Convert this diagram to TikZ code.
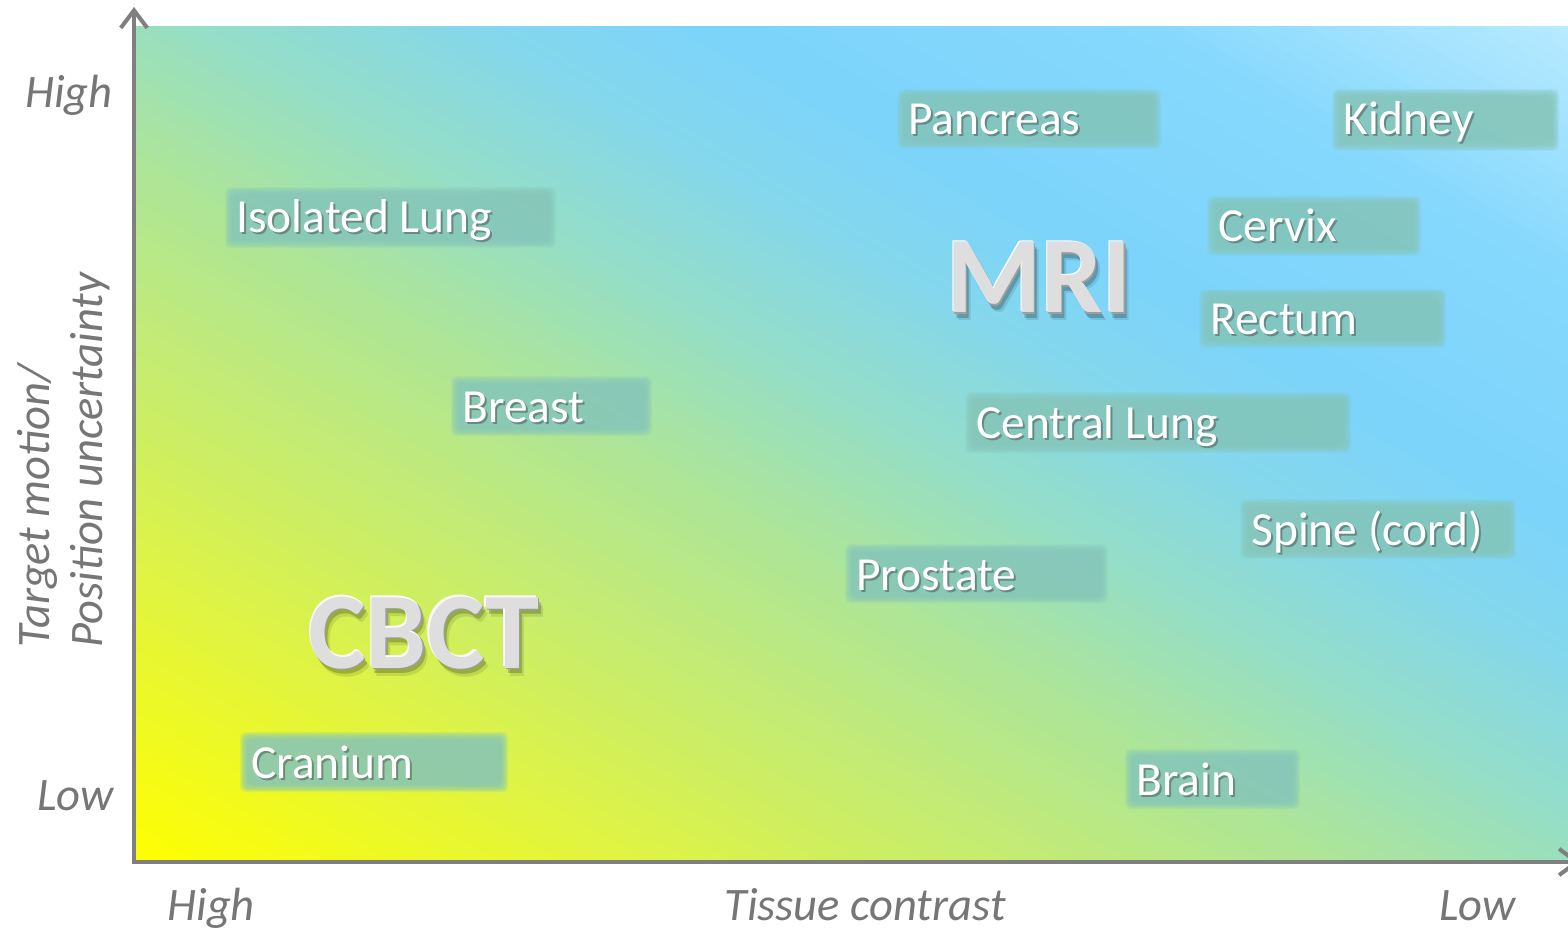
\documentclass[tikz,border=0pt]{standalone}
\usepackage{fontspec}
\setmainfont{Carlito}
\usetikzlibrary{arrows.meta}
\definecolor{axisgray}{HTML}{7F7F7F}
\definecolor{labgray}{HTML}{767676}
\definecolor{boxc}{HTML}{86C6BA}
\definecolor{sa}{HTML}{FFFF00}
\definecolor{sb}{HTML}{E4F53A}
\definecolor{sc}{HTML}{C6EC70}
\definecolor{sd}{HTML}{ADE598}
\definecolor{se}{HTML}{95DEC6}
\definecolor{sf}{HTML}{84D7EC}
\definecolor{sg}{HTML}{7CD4FB}
\definecolor{sh}{HTML}{86D8FD}
\definecolor{si}{HTML}{B8EAFF}
\newcommand\gradseg[4]{%
  \foreach \k in {0,...,19}{%
    \pgfmathsetmacro\ta{#1+(#2-#1)*\k/20}%
    \pgfmathsetmacro\tb{#1+(#2-#1)*(\k+1.6)/20}%
    \pgfmathtruncatemacro\pp{100*(\k+0.5)/20}%
    \fill[#4!\pp!#3] ({135+1433*\ta-1433},{862-835*\ta-835}) -- ({135+1433*\ta+1433},{862-835*\ta+835})
      -- ({135+1433*\tb+1433},{862-835*\tb+835}) -- ({135+1433*\tb-1433},{862-835*\tb-835}) -- cycle;
  }}
\newcommand\organ[6]{%
  \foreach \q in {-3,...,5}{\fill[boxc,opacity=0.2,rounded corners=3pt] (#2+\q,#3+\q) rectangle (#4-\q,#5-\q);}
  \node[lblsh] (#1-sh) at (#2+10,#3+45) {#6};
  \node[lbl] (#1) at (#2+8,#3+43) {#6};
}
\newcommand\bigword[4]{%
  \node[bigsh,text opacity=0.10] (#1-sh2) at (#2+5,#3+8) {#4};
  \node[bigsh] (#1-sh) at (#2+3,#3+5) {#4};
  \node[bigol] (#1-ol) at (#2+1.3,#3+1.5) {#4};
  \node[bighl] (#1-hl) at (#2-1.2,#3-1.2) {#4};
  \node[bigtx] (#1) at (#2,#3) {#4};
}
\begin{document}
\begin{tikzpicture}[x=0.02cm,y=-0.02cm,
  lbl/.style={anchor=base west,inner sep=0pt,text=white,font=\fontsize{27}{32}\selectfont},
  lblsh/.style={lbl,text=black!75,text opacity=0.45},
  axlbl/.style={inner sep=0pt,text=labgray,font=\fontsize{26.5}{31}\selectfont\itshape},
  bigbase/.style={anchor=base west,inner sep=0pt,font=\fontsize{62}{70}\selectfont\bfseries},
  bigsh/.style={bigbase,text=black,text opacity=0.2},
  bigol/.style={bigbase,text=black!38},
  bighl/.style={bigbase,text=white},
  bigtx/.style={bigbase,text=black!13},
  axis/.style={draw=axisgray,line width=2.3pt,-{Straight Barb[length=10pt,width=15pt]}}]
\useasboundingbox (0,0) rectangle (1568,932);
\fill[white] (0,0) rectangle (1568,932);
% background gradient
\begin{scope}
  \clip (135,27) rectangle (1568,862);
  \fill[sa] (135,27) rectangle (1568,862);
  \gradseg{0}{0.15}{sa}{sb}
  \gradseg{0.15}{0.3}{sb}{sc}
  \gradseg{0.3}{0.42}{sc}{sd}
  \gradseg{0.42}{0.52}{sd}{se}
  \gradseg{0.52}{0.62}{se}{sf}
  \gradseg{0.62}{0.70}{sf}{sg}
  \gradseg{0.70}{0.85}{sg}{sh}
  \gradseg{0.85}{1.0}{sh}{si}
\end{scope}
% axes
\coordinate (O) at (134,862);
\coordinate (ytip) at (134,7);
\coordinate (xtip) at (1580,862);
\draw[axis,line cap=rect] (O) -- (ytip);
\draw[axis,line cap=rect] (O) -- (xtip);
% axis labels
\node[axlbl,anchor=base east] (yhigh) at (113,108) {High};
\node[axlbl,anchor=base east] (ylow) at (114,810) {Low};
\node[axlbl,anchor=base west,rotate=90] (ylab1) at (50,648) {Target motion/};
\node[axlbl,anchor=base west,rotate=90] (ylab2) at (102,648) {Position uncertainty};
\node[axlbl,anchor=base west] (xhigh) at (167,920) {High};
\node[axlbl,anchor=base] (xlab) at (865,920) {Tissue contrast};
\node[axlbl,anchor=base west] (xlow) at (1439,920) {Low};
% organ boxes
\organ{pancreas}{900}{92}{1158}{146}{Pancreas}
\organ{kidney}{1335}{92}{1556}{148}{Kidney}
\organ{isolung}{228}{190}{553}{245}{Isolated Lung}
\organ{cervix}{1210}{199}{1418}{253}{Cervix}
\organ{rectum}{1202}{292}{1443}{345}{Rectum}
\organ{breast}{454}{379}{649}{433}{Breast}
\organ{centlung}{968}{395}{1348}{450}{Central Lung}
\organ{spine}{1243}{502}{1513}{556}{Spine (cord)}
\organ{prostate}{848}{547}{1105}{600}{Prostate}
\organ{cranium}{243}{735}{505}{789}{Cranium}
\organ{brain}{1128}{752}{1297}{806}{Brain}
% modality words
\bigword{mri}{946}{313}{MRI}
\bigword{cbct}{308}{668}{CBCT}
\end{tikzpicture}
\end{document}
